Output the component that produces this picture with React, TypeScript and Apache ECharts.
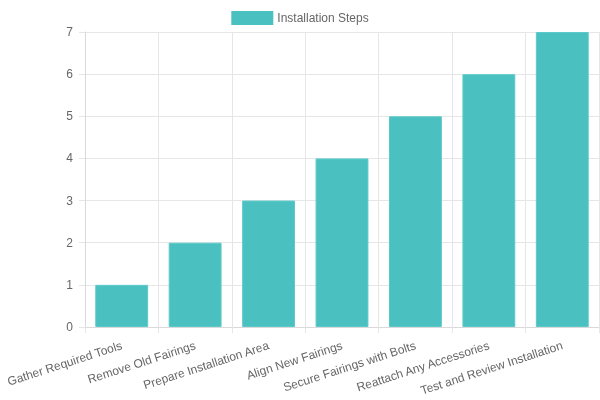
import React, { useEffect, useRef } from "react";
import * as echarts from "echarts";

const categories = [
  "Gather Required Tools",
  "Remove Old Fairings",
  "Prepare Installation Area",
  "Align New Fairings",
  "Secure Fairings with Bolts",
  "Reattach Any Accessories",
  "Test and Review Installation",
];
const stepValues = [1, 2, 3, 4, 5, 6, 7];
const seriesName = "Installation Steps";

export default function App() {
  const ref = useRef<HTMLDivElement>(null);
  useEffect(() => {
    const chart = echarts.init(ref.current!, null, { renderer: "svg" });
    const font = "'Liberation Sans', Arial, Helvetica, sans-serif";
    chart.setOption({
      animation: false,
      textStyle: { fontFamily: font },
      legend: {
        top: 6,
        left: "center",
        icon: "rect",
        itemWidth: 40,
        itemHeight: 12,
        itemGap: 10,
        textStyle: { color: "#666", fontSize: 12, fontFamily: font },
        data: [{ name: seriesName, itemStyle: { color: "#4bc0c0", borderColor: "#4bc0c0" } }],
      },
      grid: { left: 85, right: 1, top: 32, bottom: 73, containLabel: false },
      xAxis: {
        type: "category",
        data: categories,
        boundaryGap: true,
        axisLine: { show: true, lineStyle: { color: "#d9d9d9" } },
        axisTick: { show: true, length: 6, lineStyle: { color: "#e6e6e6" }, alignWithLabel: false },
        splitLine: { show: true, lineStyle: { color: "#e6e6e6" } },
        axisLabel: {
          rotate: 18,
          interval: 0,
          color: "#666",
          fontSize: 12,
          fontFamily: font,
          margin: 18,
        },
      },
      yAxis: {
        type: "value",
        min: 0,
        max: 7,
        interval: 1,
        axisLine: { show: true, lineStyle: { color: "#d9d9d9" } },
        axisTick: { show: true, length: 6, lineStyle: { color: "#e6e6e6" } },
        splitLine: { show: true, lineStyle: { color: "#e6e6e6" } },
        axisLabel: { color: "#666", fontSize: 12, fontFamily: font, margin: 12 },
      },
      series: [
        {
          name: seriesName,
          type: "bar",
          data: stepValues,
          barWidth: "72%",
          itemStyle: { color: "#4bc0c0", borderColor: "#5ccaca", borderWidth: 1 },
        },
      ],
    });
    return () => chart.dispose();
  }, []);
  return (
    <div
      ref={ref}
      style={{ position: "fixed", left: 0, top: 0, width: 600, height: 400 }}
    />
  );
}
